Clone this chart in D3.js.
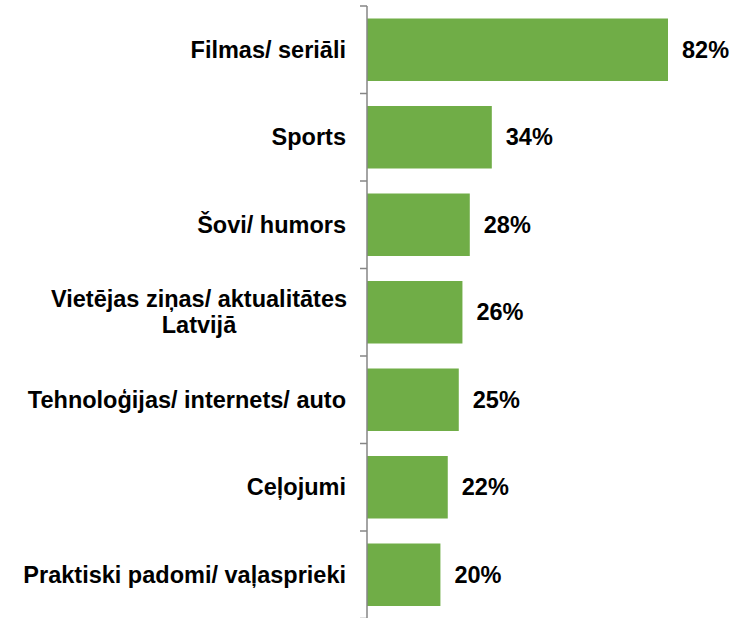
<html>
<head>
<meta charset="utf-8">
<title>Bar chart</title>
<style>
  body { margin: 0; background: #fff; }
  text { font-family: "Liberation Sans", Arial, sans-serif; font-weight: bold; fill: #000; }
</style>
</head>
<body>
<div id="chart"></div>
<script src="https://cdn.jsdelivr.net/npm/d3@7"></script>
<script>
var categories = ["Filmas/ seriāli", "Sports", "Šovi/ humors", "Vietējas ziņas/ aktualitātes\nLatvijā", "Tehnoloģijas/ internets/ auto", "Ceļojumi", "Praktiski padomi/ vaļasprieki"]
var values = [82, 34, 28, 26, 25, 22, 20]

var width = 746, height = 618
var left = 367
var top0 = 6, step = 87.5

var svg = d3.select("#chart").append("svg")
  .attr("width", width)
  .attr("height", height)

var x = d3.scaleLinear().domain([0, 82]).range([left, 668])
var y = d3.scaleBand().domain(categories)
  .range([top0, top0 + categories.length * step])
  .paddingInner(25 / 87.5).paddingOuter(12.5 / 87.5)

svg.selectAll("rect.bar")
  .data(values)
  .enter().append("rect")
  .attr("class", "bar")
  .attr("x", x(0))
  .attr("y", function(d, i) { return y(categories[i]) })
  .attr("width", function(d) { return x(d) - x(0) })
  .attr("height", y.bandwidth())
  .attr("fill", "#70AD47")

// axis with ticks at band boundaries
var bounds = d3.range(categories.length + 1).map(function(i) { return top0 + i * y.step() })
svg.append("line")
  .attr("x1", left).attr("x2", left)
  .attr("y1", top0).attr("y2", height)
  .attr("stroke", "#868686").attr("stroke-width", 1.5)
svg.selectAll("line.tick")
  .data(bounds)
  .enter().append("line")
  .attr("class", "tick")
  .attr("x1", left - 7).attr("x2", left)
  .attr("y1", function(d) { return d }).attr("y2", function(d) { return d })
  .attr("stroke", "#868686").attr("stroke-width", 1.5)

// category labels
svg.selectAll("text.cat")
  .data(categories)
  .enter().append("text")
  .attr("class", "cat")
  .attr("font-size", 23.5)
  .each(function(d) {
    var lines = d.split("\n")
    var t = d3.select(this)
    var cy = y(d) + y.bandwidth() / 2
    lines.forEach(function(l, j) {
      var ts = t.append("tspan")
        .attr("y", cy + (j - (lines.length - 1) / 2) * 26)
        .attr("dy", "0.35em")
        .text(l)
      if (lines.length > 1) {
        ts.attr("x", 199).attr("text-anchor", "middle")
      } else {
        ts.attr("x", 346).attr("text-anchor", "end")
      }
    })
  })

// value labels
svg.selectAll("text.val")
  .data(values)
  .enter().append("text")
  .attr("class", "val")
  .attr("font-size", 23.5)
  .attr("x", function(d) { return x(d) + 14 })
  .attr("y", function(d, i) { return y(categories[i]) + y.bandwidth() / 2 })
  .attr("dy", "0.35em")
  .text(function(d) { return d + "%" })
</script>
</body>
</html>
